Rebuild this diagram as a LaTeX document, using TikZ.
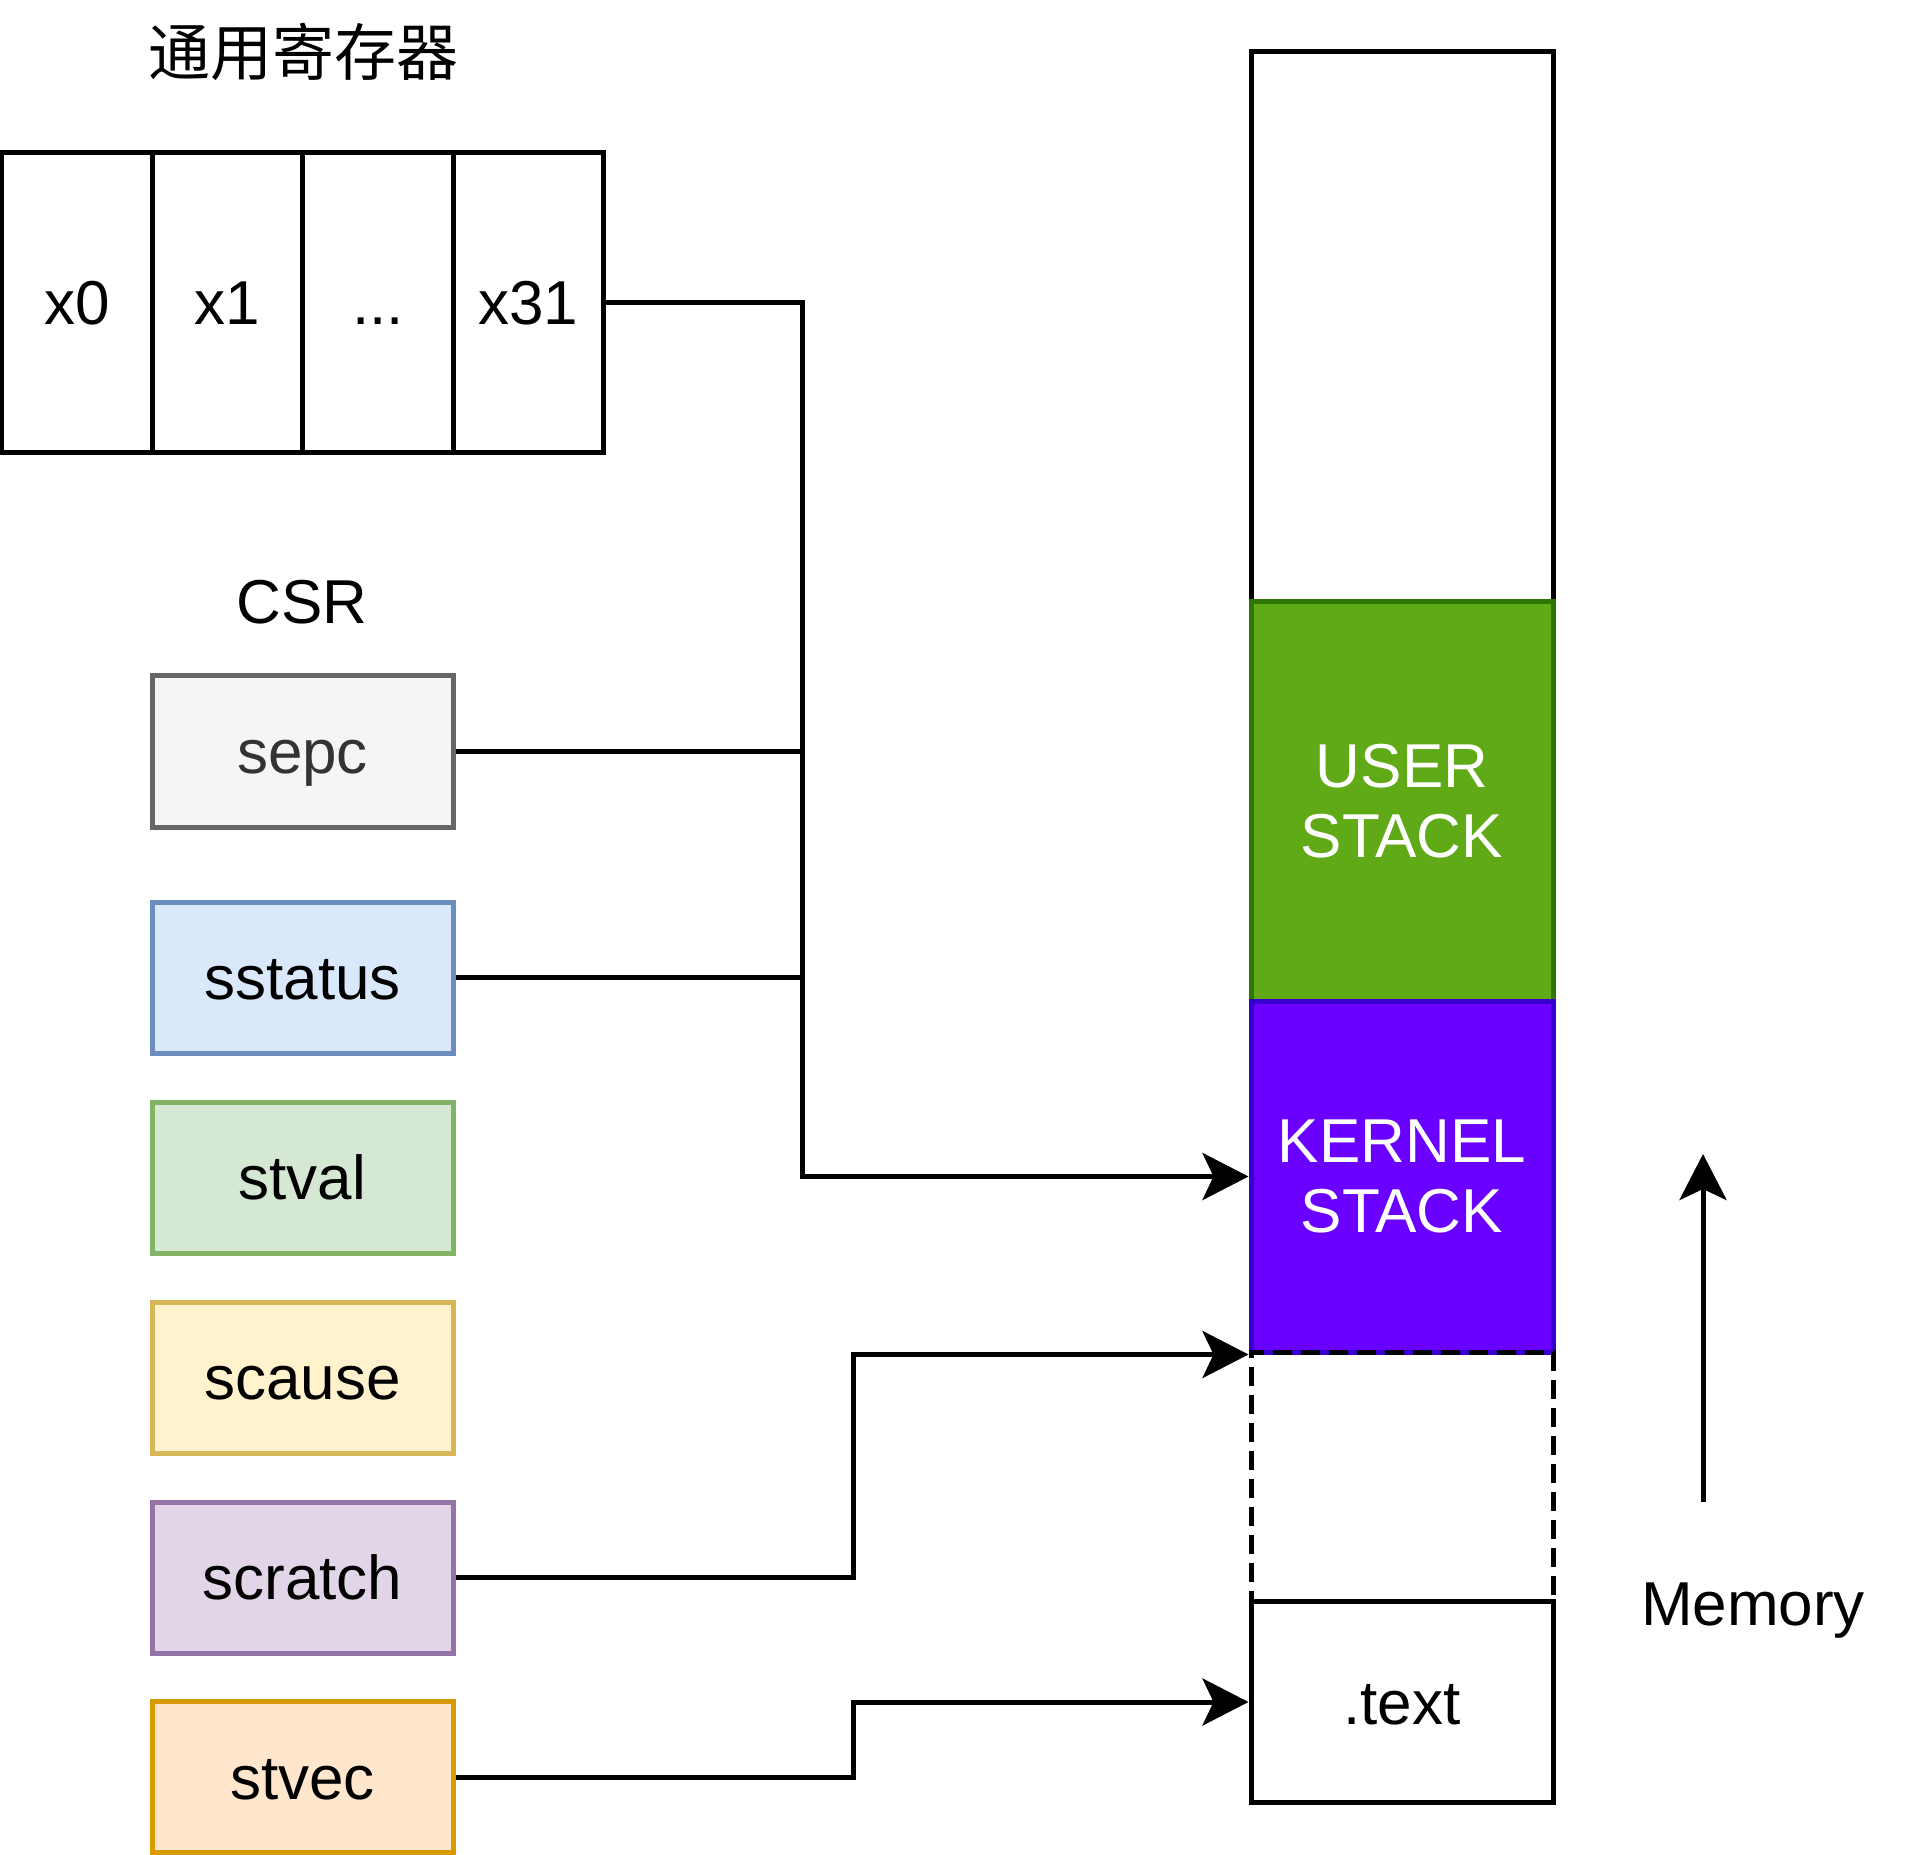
\documentclass[tikz,border=0pt]{standalone}
\usepackage{fontspec}
\setmainfont{Liberation Sans}
\newfontfamily\cjk{Noto Sans CJK SC}
\usetikzlibrary{arrows.meta}

\definecolor{sepcfill}{HTML}{F5F5F5}
\definecolor{sepcline}{HTML}{666666}
\definecolor{sepctext}{HTML}{333333}
\definecolor{sstatusfill}{HTML}{DAE8FC}
\definecolor{sstatusline}{HTML}{6C8EBF}
\definecolor{stvalfill}{HTML}{D5E8D4}
\definecolor{stvalline}{HTML}{82B366}
\definecolor{scausefill}{HTML}{FFF2CC}
\definecolor{scauseline}{HTML}{D6B656}
\definecolor{scratchfill}{HTML}{E1D5E7}
\definecolor{scratchline}{HTML}{9673A6}
\definecolor{stvecfill}{HTML}{FFE6CC}
\definecolor{stvecline}{HTML}{D79B00}
\definecolor{userfill}{HTML}{60A917}
\definecolor{userline}{HTML}{2D7600}
\definecolor{kernelfill}{HTML}{6A00FF}
\definecolor{kernelline}{HTML}{3700CC}

\tikzset{
    big/.style={font=\fontsize{31}{35}\selectfont},
    oneline/.style={big, text height=22pt, text depth=0pt},
    reg/.style={oneline, draw, line width=2.5pt, minimum width=75.25pt, minimum height=150pt, inner sep=0pt},
    csr/.style 2 args={oneline, draw=#1, fill=#2, line width=2.5pt, minimum width=150.5pt, minimum height=75.5pt, inner sep=0pt},
    memblock/.style={big, draw, line width=2.5pt, minimum width=151pt, inner sep=0pt, align=center},
    link/.style={line width=2.5pt},
    arrow/.style={link, -{Stealth[length=23pt, width=23.5pt, inset=5.5pt]}}
}

\begin{document}
\begin{tikzpicture}[x=0.5pt, y=-0.5pt]
    \useasboundingbox (0,0) rectangle (1905,1855);

    \node[big] at (303,52) (title) {\cjk 通用寄存器};
    \node[reg] at (77,303) (x0) {x0};
    \node[reg] at (227.5,303) (x1) {x1};
    \node[reg] at (378,303) (xdots) {{.}{.}{.}};
    \node[reg] at (528.5,303) (x31) {x31};

    \node[oneline] at (302,602) (csrtitle) {CSR};
    \node[csr={sepcline}{sepcfill}, text=sepctext] at (302.5,751.5) (sepc) {sepc};
    \node[csr={sstatusline}{sstatusfill}] at (302.5,977.5) (sstatus) {sstatus};
    \node[csr={stvalline}{stvalfill}] at (302.5,1177.5) (stval) {stval};
    \node[csr={scauseline}{scausefill}] at (302.5,1377.5) (scause) {scause};
    \node[csr={scratchline}{scratchfill}] at (302.5,1577.5) (scratch) {scratch};
    \node[csr={stvecline}{stvecfill}] at (302.5,1777) (stvec) {stvec};

    \node[memblock, minimum height=275pt] at (1402,327) (free) {};
    \node[memblock, minimum height=199.5pt, draw=userline, fill=userfill, text=white] at (1402,801.5) (user) {USER\\STACK};
    \node[memblock, minimum height=175.5pt, draw=kernelline, fill=kernelfill, text=white] at (1402,1176.5) (kernel) {KERNEL\\STACK};
    \node[memblock, oneline, minimum height=100.5pt] at (1402,1702) (text) {.text};
    \node[memblock, minimum height=124.5pt, dashed, dash pattern=on 9.5pt off 4.5pt] at (1402,1476.5) (gap) {};

    \node[oneline] at (1753,1603) (memory) {Memory};
    \coordinate (memlow) at (1703,1502);
    \coordinate (memhigh) at (1703,1154);

    \coordinate (busx) at (802,0);
    \coordinate (jogx) at (853,0);

    \draw[arrow] (x31.east) -| (busx |- kernel.west) -- (kernel.west);
    \draw[link] (sepc.east) -- (sepc.east -| busx);
    \draw[link] (sstatus.east) -- (sstatus.east -| busx);
    \draw[arrow] (scratch.east) -| (jogx |- kernel.south west) -- (kernel.south west);
    \draw[arrow] (stvec.east) -| (jogx |- text.west) -- (text.west);
    \draw[arrow] (memlow) -- (memhigh);
\end{tikzpicture}
\end{document}
